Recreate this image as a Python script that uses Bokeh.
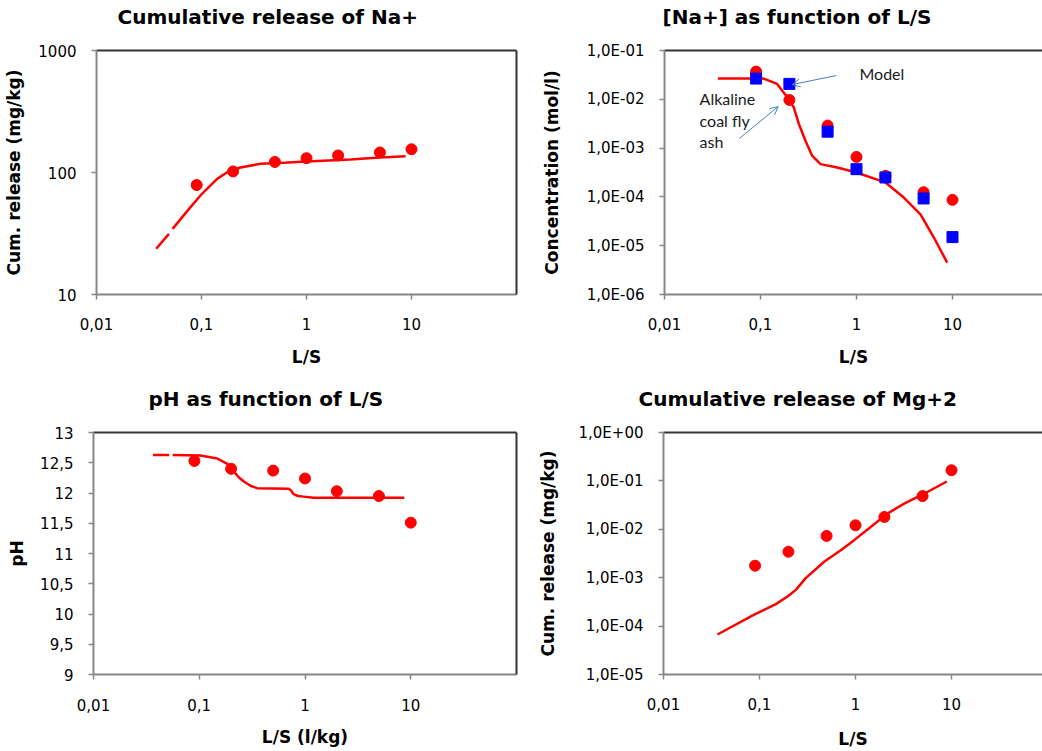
from bokeh.plotting import figure
from bokeh.models import Range1d, FixedTicker, LogAxis, LinearAxis, Label, Arrow, OpenHead, Title
from bokeh.layouts import column, row
from bokeh.embed import file_html
from bokeh.resources import INLINE

nan = float("nan")

# ---------------- data ----------------
ls_meas = [0.09, 0.2, 0.5, 1, 2, 5, 10]

# Panel 1: cumulative release of Na+ (mg/kg)
na_cum_meas = [79, 102, 122, 131, 138, 146, 155]
na_cum_model_x = [0.037, 0.049, nan, 0.053, 0.073, 0.101, 0.141, 0.176, 0.235, 0.365, 0.608, 1.0, 2.62, 5.0, 8.8]
na_cum_model_y = [23.7, 31.4, nan, 34.5, 48.2, 66.9, 88.7, 100.5, 110, 117.9, 120, 123, 128, 133, 136]

# Panel 2: [Na+] (mol/l)
na_conc_meas = [0.037, 0.0097, 0.0029, 6.6e-4, 2.7e-4, 1.25e-4, 8.7e-5]
na_conc_model_pts = [0.0266, 0.0207, 0.00217, 3.7e-4, 2.5e-4, 9.3e-5, 1.5e-5]
na_conc_curve_x = [0.036, 0.108, 0.149, 0.19, 0.222, 0.251, 0.294, 0.345, 0.422, 0.63, 0.977, 2.0, 3.11, 4.64, 6.4, 8.8]
na_conc_curve_y = [0.0266, 0.0266, 0.0207, 0.011, 0.00686, 0.00312, 0.00142, 7.0e-4, 4.7e-4, 4.0e-4, 3.2e-4,
                   1.98e-4, 9.7e-5, 4.4e-5, 1.47e-5, 4.5e-6]

# Panel 3: pH
ph_meas = [12.53, 12.40, 12.37, 12.24, 12.03, 11.95, 11.51]
ph_curve_x = [0.0365, 0.052, nan, 0.056, 0.103, 0.148, 0.184, 0.212, 0.236, 0.264, 0.305, 0.352, 0.70, 0.74,
              0.78, 0.86, 0.97, 1.2, 8.7]
ph_curve_y = [12.63, 12.63, nan, 12.63, 12.62, 12.57, 12.48, 12.36, 12.26, 12.19, 12.12, 12.08, 12.07, 12.04,
              11.98, 11.95, 11.94, 11.92, 11.92]

# Panel 4: cumulative release of Mg+2 (mg/kg)
mg_meas = [1.77e-3, 3.44e-3, 7.3e-3, 0.0121, 0.018, 0.0485, 0.166]
mg_curve_x = [0.0365, 0.088, 0.148, 0.196, 0.239, 0.303, 0.471, 0.703, 0.968, 1.44, 2.15, 3.21, 5.19, 8.93]
mg_curve_y = [6.7e-5, 1.72e-4, 2.85e-4, 4.1e-4, 5.6e-4, 9.8e-4, 2.14e-3, 3.7e-3, 5.97e-3, 0.0112, 0.0211,
              0.0339, 0.0543, 0.0972]

# titles
titles = ["Cumulative release of Na+", "[Na+] as function of L/S",
          "pH as function of L/S", "Cumulative release of Mg+2"]

# ticks
x_ticks = [0.01, 0.1, 1, 10]
x_tick_labels = ["0,01", "0,1", "1", "10"]
y1_ticks = [10, 100, 1000]
y1_tick_labels = ["10", "100", "1000"]
y2_ticks = [1e-6, 1e-5, 1e-4, 1e-3, 1e-2, 1e-1]
y2_tick_labels = ["1,0E-06", "1,0E-05", "1,0E-04", "1,0E-03", "1,0E-02", "1,0E-01"]
y3_ticks = [9, 9.5, 10, 10.5, 11, 11.5, 12, 12.5, 13]
y3_tick_labels = ["9", "9,5", "10", "10,5", "11", "11,5", "12", "12,5", "13"]
y4_ticks = [1e-5, 1e-4, 1e-3, 1e-2, 1e-1, 1]
y4_tick_labels = ["1,0E-05", "1,0E-04", "1,0E-03", "1,0E-02", "1,0E-01", "1,0E+00"]

RED = "#ff0000"
BLUE = "#0000ff"
AXIS_GRAY = "#868686"
BORDER = "#333333"
FONT = "DejaVu Sans"


def make_fig(title, toff, w, h, xr, yr, ylog, bl, br, bt, bb, xlabel, ylabel,
             xt, xtl, yt, ytl, y_lab_standoff, right_border=True, x_tick_standoff=18, x_lab_standoff=14):
    p = figure(width=w, height=h, x_axis_type="log", y_axis_type="log" if ylog else "linear",
               x_range=Range1d(*xr), y_range=Range1d(*yr), output_backend="svg",
               toolbar_location=None, min_border_left=bl, min_border_right=br,
               min_border_top=bt, min_border_bottom=bb, title_location=None)
    p.outline_line_color = None
    p.xgrid.visible = False
    p.ygrid.visible = False
    xa = p.below[0]
    ya = p.left[0]
    for ax, ticks, labels in ((xa, xt, xtl), (ya, yt, ytl)):
        ax.ticker = FixedTicker(ticks=ticks)
        ax.major_label_overrides = {t: l for t, l in zip(ticks, labels)}
        ax.axis_line_color = AXIS_GRAY
        ax.axis_line_width = 2
        ax.major_tick_line_color = AXIS_GRAY
        ax.major_tick_line_width = 1.5
        ax.major_tick_out = 5
        ax.major_tick_in = 0
        ax.minor_tick_line_color = None
        ax.major_label_text_font = FONT
        ax.major_label_text_font_size = "15px"
        ax.major_label_text_color = "#000000"
        ax.axis_label_text_font = FONT
        ax.axis_label_text_font_style = "bold"
        ax.axis_label_text_font_size = "17px"
        ax.axis_label_text_color = "#000000"
    xa.axis_label = xlabel
    xa.major_label_standoff = x_tick_standoff
    xa.axis_label_standoff = x_lab_standoff
    ya.axis_label = ylabel
    ya.major_label_standoff = 15
    ya.axis_label_standoff = y_lab_standoff
    # top border line (closest to the frame)
    p.add_layout(LogAxis(ticker=FixedTicker(ticks=[]), axis_line_color=BORDER, axis_line_width=2,
                         major_tick_out=0, major_tick_in=0, minor_tick_line_color=None,
                         major_tick_line_color=None, major_label_text_font_size="0px"), "above")
    if right_border:
        cls = LogAxis if ylog else LinearAxis
        p.add_layout(cls(ticker=FixedTicker(ticks=[]), axis_line_color=BORDER, axis_line_width=2,
                         major_tick_out=0, major_tick_in=0, minor_tick_line_color=None,
                         major_tick_line_color=None, major_label_text_font_size="0px"), "right")
    # spacer between frame and chart title, then the title itself
    p.add_layout(Title(text=" ", text_font_size="10px", standoff=9), "above")
    p.add_layout(Title(text=title, align="left", offset=toff, standoff=0, text_font=FONT,
                       text_font_style="bold", text_font_size="20px", text_color="#000000"), "above")
    return p


# Panel 1
p1 = make_fig(titles[0], 21, 520, 370, (0.01, 100), (10, 1000), True,
              96, 4, 50, 76, "L/S", "Cum. release (mg/kg)",
              x_ticks, x_tick_labels, y1_ticks, y1_tick_labels, 11)
p1.line(na_cum_model_x, na_cum_model_y, line_color=RED, line_width=2.5)
p1.scatter(ls_meas, na_cum_meas, marker="circle", size=11, fill_color=RED, line_color=RED)

# Panel 2
p2 = make_fig(titles[1], -2, 522, 370, (0.01, 86.6), (1e-6, 1e-1), True,
              144, 0, 50, 76, "L/S", "Concentration (mol/l)",
              x_ticks, x_tick_labels, y2_ticks, y2_tick_labels, 22, right_border=False)
p2.line(na_conc_curve_x, na_conc_curve_y, line_color=RED, line_width=2.5)
p2.scatter(ls_meas, na_conc_meas, marker="circle", size=11, fill_color=RED, line_color=RED)
p2.scatter(ls_meas, na_conc_model_pts, marker="square", size=11, fill_color=BLUE, line_color=BLUE)
ARROW = "#4a7ebb"
for txt, xx, yy in (("Model", 1.074, 0.0337), ("Alkaline", 0.0232, 0.01033),
                    ("coal fly", 0.0232, 0.00366), ("ash", 0.0232, 0.001374)):
    p2.add_layout(Label(x=xx, y=yy, text=txt, text_font="Lato", text_font_size="16px",
                        text_color="#1a1a1a", text_baseline="alphabetic"))
p2.add_layout(Arrow(end=OpenHead(size=8, line_color=ARROW, line_width=1), x_start=0.619, y_start=0.0307,
                    x_end=0.2138, y_end=0.02005, line_color=ARROW, line_width=1))
p2.add_layout(Arrow(end=OpenHead(size=8, line_color=ARROW, line_width=1), x_start=0.0604, y_start=0.00158,
                    x_end=0.1527, y_end=0.00708, line_color=ARROW, line_width=1))

# Panel 3
p3 = make_fig(titles[2], 55, 520, 381, (0.01, 100), (9, 13), False,
              93, 4, 61, 77, "L/S (l/kg)", "pH",
              x_ticks, x_tick_labels, y3_ticks, y3_tick_labels, 10, x_tick_standoff=19, x_lab_standoff=13)
p3.line(ph_curve_x, ph_curve_y, line_color=RED, line_width=2.5)
p3.scatter(ls_meas, ph_meas, marker="circle", size=11, fill_color=RED, line_color=RED)

# Panel 4
p4 = make_fig(titles[3], -25, 522, 381, (0.01, 88.7), (1e-5, 1), True,
              143, 0, 62, 75, "L/S", "Cum. release (mg/kg)",
              x_ticks, x_tick_labels, y4_ticks, y4_tick_labels, 18, right_border=False, x_lab_standoff=16)
p4.line(mg_curve_x, mg_curve_y, line_color=RED, line_width=2.5)
p4.scatter(ls_meas, mg_meas, marker="circle", size=11, fill_color=RED, line_color=RED)

layout = column(row(p1, p2), row(p3, p4))
open("out.html", "w").write(file_html(layout, INLINE))
